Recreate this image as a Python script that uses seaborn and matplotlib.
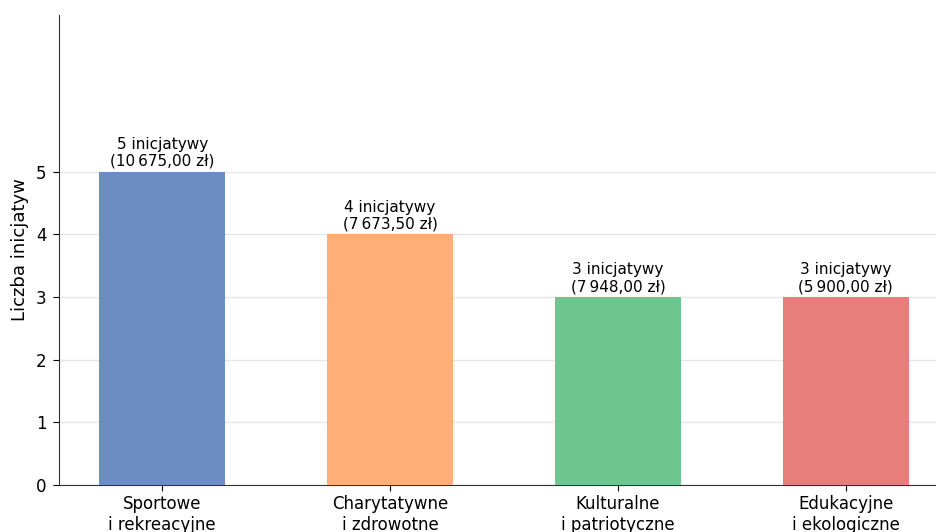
import matplotlib
matplotlib.use("Agg")
import matplotlib.pyplot as plt
import seaborn as sns
import pandas as pd

# Dane
kategorie = ["Sportowe\ni rekreacyjne", "Charytatywne\ni zdrowotne",
             "Kulturalne\ni patriotyczne", "Edukacyjne\ni ekologiczne"]
liczba_inicjatyw = [5, 4, 3, 3]
kwoty = ["10\u202f675,00 zł", "7\u202f673,50 zł", "7\u202f948,00 zł", "5\u202f900,00 zł"]
kolory = ["#6b8dc1", "#ffae78", "#6cc68e", "#e87e7c"]

sns.set_style("ticks")
plt.rcParams['font.family'] = ['DejaVu Sans']
plt.rcParams.update({"text.color": "black", "axes.labelcolor": "black",
                     "xtick.color": "black", "ytick.color": "black"})

df = pd.DataFrame({"kategoria": kategorie, "liczba": liczba_inicjatyw})

fig = plt.figure(figsize=(9.36, 5.32), dpi=100)
ax = fig.add_axes([59 / 936, 47 / 532, (949 - 59) / 936, (485 - 15) / 532])

sns.barplot(data=df, x="kategoria", y="liczba", hue="kategoria", palette=kolory,
            width=0.55, saturation=1, linewidth=0, legend=False, ax=ax, zorder=3)

# etykiety nad słupkami
for i, (n, kw) in enumerate(zip(liczba_inicjatyw, kwoty)):
    ax.annotate(f"{n} inicjatywy\n({kw})", xy=(i, n), xytext=(0, 2),
                textcoords="offset points", ha="center", va="bottom",
                fontsize=11, linespacing=1.15)

ax.set_ylim(0, 7.5)
ax.set_xlim(-0.4525, 3.4525)
ax.set_yticks(range(0, 6))
ax.yaxis.grid(True, color="#e6e6e6", linewidth=1, zorder=0)
ax.set_axisbelow(True)
ax.set_xlabel("")
ax.set_ylabel("Liczba inicjatyw", fontsize=13, labelpad=5)
ax.tick_params(axis="both", labelsize=12, length=4)
ax.tick_params(axis="y", pad=5)
for s in ["top", "right"]:
    ax.spines[s].set_visible(False)
for s in ["left", "bottom"]:
    ax.spines[s].set_color("#333333")

fig.savefig("out.png", dpi=100)
